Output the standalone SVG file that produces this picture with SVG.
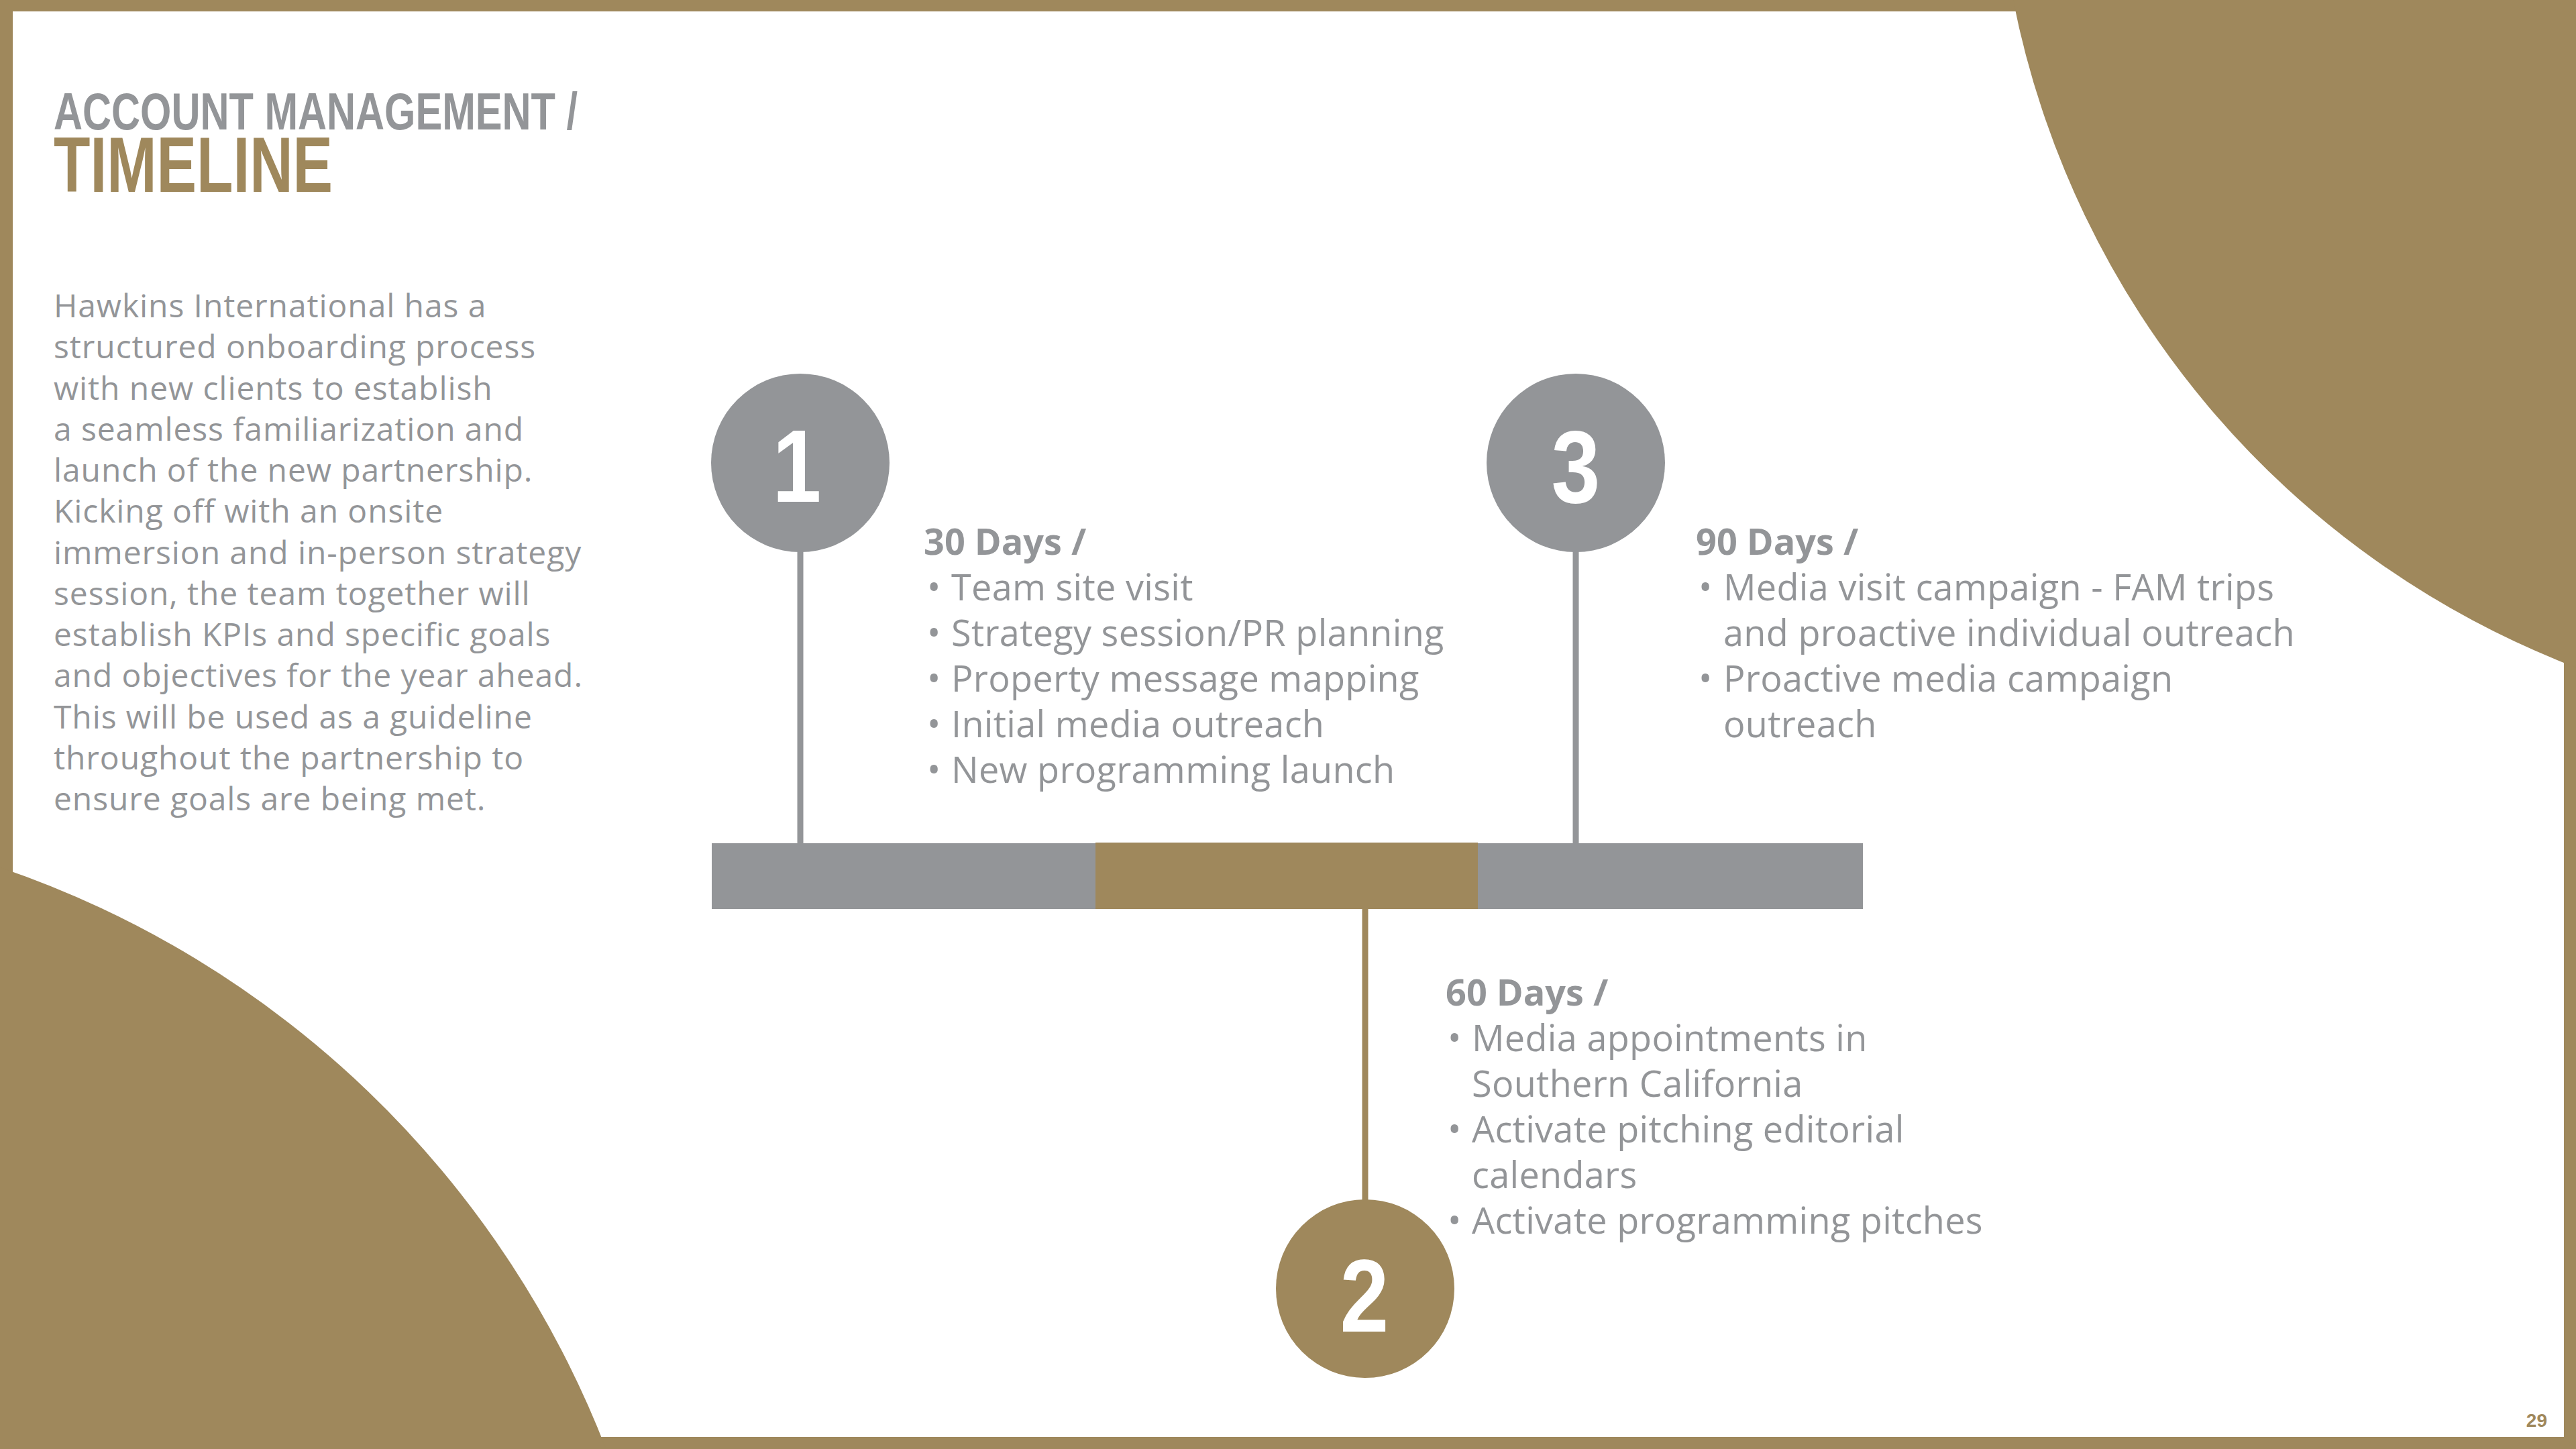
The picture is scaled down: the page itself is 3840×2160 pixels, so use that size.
<svg xmlns="http://www.w3.org/2000/svg" width="3840" height="2160" viewBox="0 0 3840 2160">
  <style>
    .gold { fill: #9F885C; }
    .grey { fill: #939598; }
    .title { font-family: "Liberation Sans", Arial, sans-serif; font-weight: bold; }
    .body { font-family: "Open Sans", "Liberation Sans", sans-serif; font-size: 48px; letter-spacing: 0.9px; fill: #939598; }
    .head { font-family: "Open Sans", "Liberation Sans", sans-serif; font-weight: bold; font-size: 54px; fill: #939598; }
    .item { font-family: "Open Sans", "Liberation Sans", sans-serif; font-size: 54px; letter-spacing: 0.3px; fill: #939598; }
    .digit { font-family: "Liberation Sans", Arial, sans-serif; font-weight: bold; font-size: 154px; fill: #FFFFFF; text-anchor: middle; }
    .stem { stroke-width: 9; fill: none; }
  </style>

  <!-- frame and background -->
  <g id="background">
    <rect x="0" y="0" width="3840" height="2160" class="gold"/>
    <rect x="19" y="17" width="3803" height="2125" fill="#FFFFFF"/>
    <path d="M 3001 0 A 1343.5 1343.5 0 0 0 3840 995 L 3840 0 Z" class="gold"/>
    <path d="M 0 1293 A 1480 1480 0 0 1 903.5 2160 L 0 2160 Z" class="gold"/>
  </g>

  <g id="title">
    <text x="80" y="193" class="title" font-size="78" fill="#939598" textLength="781" lengthAdjust="spacingAndGlyphs">ACCOUNT MANAGEMENT /</text>
    <text x="80" y="286" class="title" font-size="116" fill="#9F885C" textLength="416" lengthAdjust="spacingAndGlyphs">TIMELINE</text>
  </g>

  <g id="intro">
    <text class="body">
      <tspan x="80" y="473">Hawkins International has a</tspan>
      <tspan x="80" y="534.25">structured onboarding process</tspan>
      <tspan x="80" y="595.5">with new clients to establish</tspan>
      <tspan x="80" y="656.75">a seamless familiarization and</tspan>
      <tspan x="80" y="718">launch of the new partnership.</tspan>
      <tspan x="80" y="779.25">Kicking off with an onsite</tspan>
      <tspan x="80" y="840.5">immersion and in-person strategy</tspan>
      <tspan x="80" y="901.75">session, the team together will</tspan>
      <tspan x="80" y="963">establish KPIs and specific goals</tspan>
      <tspan x="80" y="1024.25">and objectives for the year ahead.</tspan>
      <tspan x="80" y="1085.5">This will be used as a guideline</tspan>
      <tspan x="80" y="1146.75">throughout the partnership to</tspan>
      <tspan x="80" y="1208">ensure goals are being met.</tspan>
    </text>
  </g>

  <!-- connectors -->
  <g id="connectors">
    <line x1="1193" y1="822" x2="1193" y2="1258" stroke="#939598" class="stem"/>
    <line x1="2349" y1="822" x2="2349" y2="1258" stroke="#939598" class="stem"/>
    <line x1="2035" y1="1354" x2="2035" y2="1790" stroke="#9F885C" class="stem"/>
  </g>

  <g id="timeline-bar">
    <rect x="1061" y="1257" width="1716" height="98" class="grey"/>
    <rect x="1633" y="1256" width="570" height="99" class="gold"/>
  </g>

  <g id="node-1">
    <circle cx="1193" cy="690" r="133" class="grey"/>
    <text class="digit" transform="translate(1188 748) scale(0.85 1)" x="0" y="0">1</text>
  </g>

  <g id="node-3">
    <circle cx="2349" cy="690" r="133" class="grey"/>
    <text class="digit" transform="translate(2349 749) scale(0.85 1)" x="0" y="0">3</text>
  </g>

  <g id="node-2">
    <circle cx="2035" cy="1921" r="133" class="gold"/>
    <text class="digit" transform="translate(2034 1985) scale(0.85 1)" x="0" y="0">2</text>
  </g>

  <g id="label-30">
    <text x="1377" y="827" class="head">30 Days /</text>
    <text class="item">
      <tspan x="1382" y="895">•</tspan>
      <tspan x="1418" y="895">Team site visit</tspan>
      <tspan x="1382" y="963">•</tspan>
      <tspan x="1418" y="963">Strategy session/PR planning</tspan>
      <tspan x="1382" y="1031">•</tspan>
      <tspan x="1418" y="1031">Property message mapping</tspan>
      <tspan x="1382" y="1099">•</tspan>
      <tspan x="1418" y="1099">Initial media outreach</tspan>
      <tspan x="1382" y="1167">•</tspan>
      <tspan x="1418" y="1167">New programming launch</tspan>
    </text>
  </g>

  <g id="label-90">
    <text x="2528" y="827" class="head">90 Days /</text>
    <text class="item">
      <tspan x="2532" y="895">•</tspan>
      <tspan x="2569" y="895">Media visit campaign - FAM trips</tspan>
      <tspan x="2569" y="963">and proactive individual outreach</tspan>
      <tspan x="2532" y="1031">•</tspan>
      <tspan x="2569" y="1031">Proactive media campaign</tspan>
      <tspan x="2569" y="1099">outreach</tspan>
    </text>
  </g>

  <g id="label-60">
    <text x="2155" y="1499" class="head">60 Days /</text>
    <text class="item">
      <tspan x="2158" y="1567">•</tspan>
      <tspan x="2194" y="1567">Media appointments in</tspan>
      <tspan x="2194" y="1635">Southern California</tspan>
      <tspan x="2158" y="1703">•</tspan>
      <tspan x="2194" y="1703">Activate pitching editorial</tspan>
      <tspan x="2194" y="1771">calendars</tspan>
      <tspan x="2158" y="1839">•</tspan>
      <tspan x="2194" y="1839">Activate programming pitches</tspan>
    </text>
  </g>

  <g id="page-number">
    <text x="3797" y="2127" class="title" font-size="28" fill="#9F885C" text-anchor="end">29</text>
  </g>
</svg>
